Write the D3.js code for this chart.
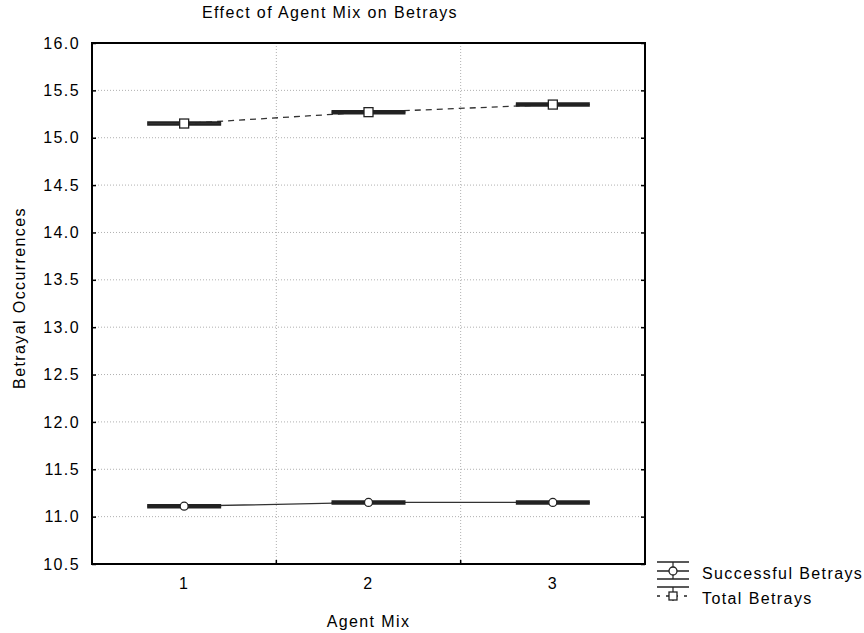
<!DOCTYPE html>
<html>
<head>
<meta charset="utf-8">
<script src="https://cdn.jsdelivr.net/npm/d3@7"></script>
<style>
body{margin:0;background:#fff;}
text{font-family:Arial,"Liberation Sans",sans-serif;fill:#000;}
</style>
</head>
<body>
<svg id="chart" width="864" height="633"></svg>
<script>
const categories = ["1", "2", "3"];
const successful = [11.11, 11.15, 11.15];
const successfulErr = [0.01, 0.01, 0.01];
const total = [15.15, 15.27, 15.35];
const totalErr = [0.01, 0.01, 0.01];
const yTicks = [10.5, 11.0, 11.5, 12.0, 12.5, 13.0, 13.5, 14.0, 14.5, 15.0, 15.5, 16.0];
const seriesNames = ["Successful Betrays", "Total Betrays"];

const svg = d3.select("#chart");
const L = 92, R = 645, T = 43, B = 564;
const FS = 16, LS = 1.4;

const x = d3.scaleBand().domain(categories).range([L, R]);
const y = d3.scaleLinear().domain([10.5, 16.0]).range([B, T]);

// gridlines
const g = svg.append("g");
g.selectAll(".hg").data(yTicks.slice(1, -1)).enter().append("line")
  .attr("x1", L).attr("x2", R).attr("y1", d => y(d)).attr("y2", d => y(d))
  .attr("stroke", "#b0b0b0").attr("stroke-dasharray", "1,2");
g.selectAll(".vg").data(categories.slice(1)).enter().append("line")
  .attr("x1", d => x(d)).attr("x2", d => x(d)).attr("y1", T).attr("y2", B)
  .attr("stroke", "#b0b0b0").attr("stroke-dasharray", "1,2");

// axes
const yAxis = d3.axisLeft(y).tickValues(yTicks).tickFormat(d3.format(".1f")).tickSizeInner(-4).tickSizeOuter(0).tickPadding(12);
const yAxisR = d3.axisRight(y).tickValues(yTicks).tickFormat("").tickSizeInner(-4).tickSizeOuter(0);
const xAxis = d3.axisBottom(x).tickSizeInner(0).tickSizeOuter(0).tickPadding(14);

const ya = svg.append("g").attr("transform", `translate(${L},0)`).call(yAxis);
const yr = svg.append("g").attr("transform", `translate(${R},0)`).call(yAxisR);
const xa = svg.append("g").attr("transform", `translate(0,${B})`).call(xAxis);
[ya, yr, xa].forEach(a => {
  a.select(".domain").remove();
  a.selectAll("line").attr("stroke", "#000").attr("stroke-width", 1.5);
  a.selectAll("text").attr("font-size", FS).attr("letter-spacing", LS).attr("fill", "#000");
});
// bottom ticks at band boundaries
svg.selectAll(".bt").data(categories.slice(1)).enter().append("line")
  .attr("x1", d => x(d)).attr("x2", d => x(d)).attr("y1", B).attr("y2", B - 4)
  .attr("stroke", "#000").attr("stroke-width", 1.5);

// frame
svg.append("rect").attr("x", L).attr("y", T).attr("width", R - L).attr("height", B - T)
  .attr("fill", "none").attr("stroke", "#000").attr("stroke-width", 2);

const cx = d => x(d) + x.bandwidth() / 2;
const capHalf = 37;

function drawSeries(vals, errs, dashed, marker) {
  const pts = categories.map((c, i) => ({c, v: vals[i], e: errs[i]}));
  const line = d3.line().x(d => cx(d.c)).y(d => y(d.v));
  svg.append("path").datum(pts).attr("d", line).attr("fill", "none")
    .attr("stroke", "#333").attr("stroke-width", 1.3)
    .attr("stroke-dasharray", dashed ? "6,5" : null);
  const gg = svg.append("g");
  pts.forEach(p => {
    [p.v + p.e, p.v - p.e].forEach(v => {
      gg.append("line").attr("x1", cx(p.c) - capHalf).attr("x2", cx(p.c) + capHalf)
        .attr("y1", y(v)).attr("y2", y(v)).attr("stroke", "#222").attr("stroke-width", 2.6);
    });
    gg.append("line").attr("x1", cx(p.c)).attr("x2", cx(p.c))
      .attr("y1", y(p.v + p.e)).attr("y2", y(p.v - p.e)).attr("stroke", "#222").attr("stroke-width", 1);
    if (marker === "circle") {
      gg.append("circle").attr("cx", cx(p.c)).attr("cy", y(p.v)).attr("r", 4)
        .attr("fill", "#fff").attr("stroke", "#222").attr("stroke-width", 1.3);
    } else {
      gg.append("rect").attr("x", cx(p.c) - 4.5).attr("y", y(p.v) - 4.5).attr("width", 9).attr("height", 9)
        .attr("fill", "#fff").attr("stroke", "#222").attr("stroke-width", 1.3);
    }
  });
}
drawSeries(total, totalErr, true, "square");
drawSeries(successful, successfulErr, false, "circle");

// titles
svg.append("text").attr("x", 330).attr("y", 18).attr("text-anchor", "middle")
  .attr("font-size", FS).attr("letter-spacing", LS).text("Effect of Agent Mix on Betrays");
svg.append("text").attr("x", (L + R) / 2).attr("y", 627).attr("text-anchor", "middle")
  .attr("font-size", FS).attr("letter-spacing", LS).text("Agent Mix");
svg.append("text").attr("transform", `translate(25,298) rotate(-90)`)
  .attr("text-anchor", "middle").attr("font-size", FS).attr("letter-spacing", LS).text("Betrayal Occurrences");

// legend
const lg = svg.append("g");
seriesNames.forEach((name, i) => {
  const ly = 571 + i * 25;
  const lx = 673;
  const dashed = i === 1;
  lg.append("line").attr("x1", lx - 16).attr("x2", lx + 16).attr("y1", ly - 9).attr("y2", ly - 9).attr("stroke", "#222").attr("stroke-width", 1.5);
  if (!dashed) {
    lg.append("line").attr("x1", lx - 16).attr("x2", lx + 16).attr("y1", ly + 8).attr("y2", ly + 8).attr("stroke", "#222").attr("stroke-width", 1.5);
  }
  lg.append("line").attr("x1", lx).attr("x2", lx).attr("y1", ly - 9).attr("y2", ly + (dashed ? 5 : 8)).attr("stroke", "#222").attr("stroke-width", 1.2);
  lg.append("line").attr("x1", lx - 16).attr("x2", lx + 16).attr("y1", ly).attr("y2", ly).attr("stroke", "#222").attr("stroke-width", 1.5)
    .attr("stroke-dasharray", dashed ? "3,6" : null);
  if (i === 0) {
    lg.append("circle").attr("cx", lx).attr("cy", ly).attr("r", 4).attr("fill", "#fff").attr("stroke", "#222").attr("stroke-width", 1.3);
  } else {
    lg.append("rect").attr("x", lx - 4).attr("y", ly - 4).attr("width", 8).attr("height", 8).attr("fill", "#fff").attr("stroke", "#222").attr("stroke-width", 1.3);
  }
  lg.append("text").attr("x", 702).attr("y", ly + 8).attr("font-size", FS).attr("letter-spacing", LS).text(name);
});
</script>
</body>
</html>
